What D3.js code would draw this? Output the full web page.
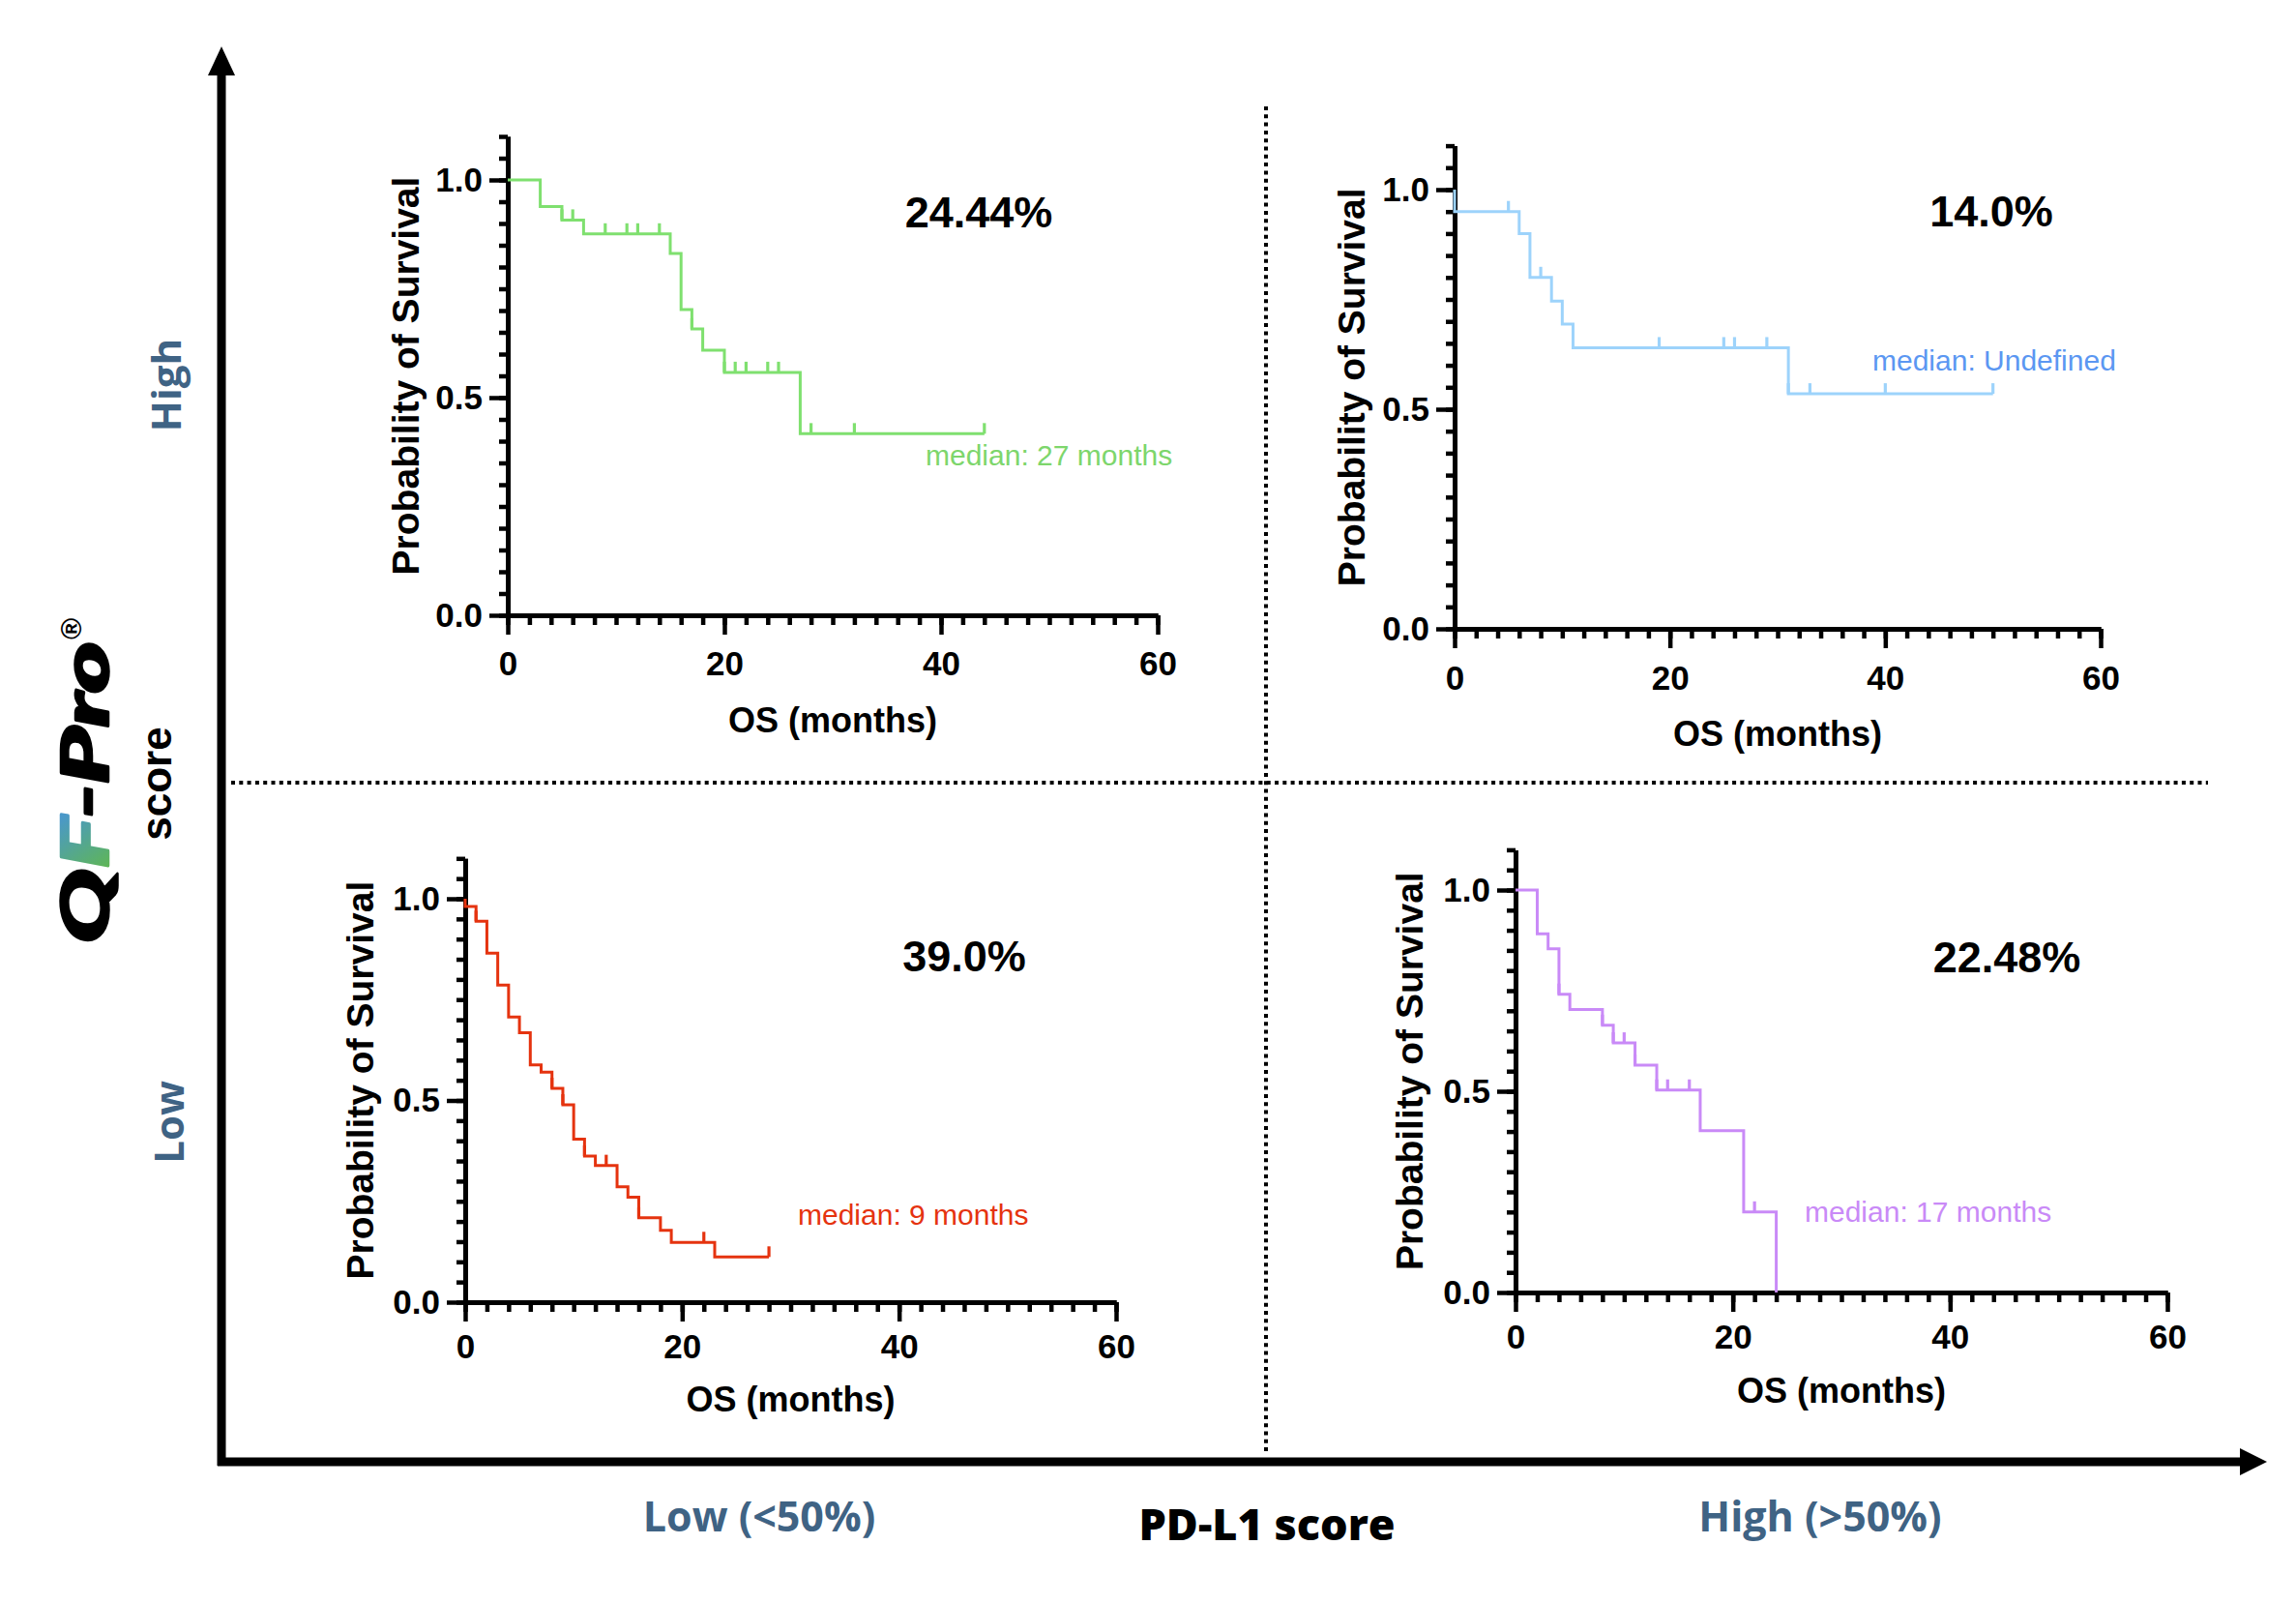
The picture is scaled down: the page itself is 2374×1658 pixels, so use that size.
<!DOCTYPE html>
<html>
<head>
<meta charset="utf-8">
<script src="https://cdn.jsdelivr.net/npm/d3@7"></script>
<style>
  html, body { margin: 0; padding: 0; background: #fff; }
  svg { display: block; }
</style>
</head>
<body>
<div id="chart"></div>
<script>
// ---------------- DATA ----------------
const xTickValues = [0, 20, 40, 60];
const xTickLabels = ["0", "20", "40", "60"];
const yTickValues = [0, 0.5, 1.0];
const yTickLabels = ["0.0", "0.5", "1.0"];
const percentLabels = ["24.44%", "14.0%", "39.0%", "22.48%"];
const medianLabels = ["median: 27 months", "median: Undefined", "median: 9 months", "median: 17 months"];
const rowLabels = ["High", "Low"];
const colLabels = ["Low (<50%)", "High (>50%)"];
const xAxisTitle = "PD-L1 score";
const yAxisTitle = "score";
const panelXLabel = "OS (months)";
const panelYLabel = "Probability of Survival";

// High QF-Pro / Low PD-L1 (green)
const greenTimes = [0, 3, 5, 7, 15, 16, 17, 18, 20, 27];
const greenSurv = [1.0, 0.939, 0.908, 0.876, 0.831, 0.702, 0.658, 0.609, 0.558, 0.417];
const greenCensor = [5, 6, 9, 11, 12, 14, 17, 20, 21, 22, 24, 25, 28, 32, 44];
const greenEnd = 44;

// High QF-Pro / High PD-L1 (blue)
const blueTimes = [0, 0, 6, 7, 9, 10, 11, 31];
const blueSurv = [1.0, 0.95, 0.90, 0.80, 0.746, 0.694, 0.640, 0.535];
const blueCensor = [5, 8, 19, 25, 26, 29, 31, 33, 40, 50];
const blueEnd = 50;

// Low QF-Pro / Low PD-L1 (red)
const redTimes = [0, 0, 1, 2, 3, 4, 5, 6, 7, 8, 9, 10, 11, 12, 14, 15, 16, 18, 19, 23];
const redSurv = [1.0, 0.981, 0.944, 0.865, 0.786, 0.707, 0.668, 0.588, 0.570, 0.530, 0.489, 0.404, 0.362, 0.339, 0.286, 0.260, 0.209, 0.178, 0.148, 0.112];
const redCensor = [1, 8, 9, 11, 13, 16, 22, 28];
const redEnd = 28;

// Low QF-Pro / High PD-L1 (purple)
const purpleTimes = [0, 2, 3, 4, 5, 8, 9, 11, 13, 17, 21, 24];
const purpleSurv = [1.0, 0.891, 0.854, 0.741, 0.703, 0.664, 0.620, 0.565, 0.503, 0.402, 0.200, 0.0];
const purpleCensor = [4, 8, 9, 10, 11, 13, 14, 16, 22];
const purpleEnd = 24;

// ---------------- LAYOUT / STYLE ----------------
const W = 2374, H = 1658;
const panels = [
  { times: greenTimes, surv: greenSurv, censor: greenCensor, end: greenEnd,
    line: "#7fe06f", text: "#7dd66c",
    x0: 525, x1: 1197, y0: 636, y1: 186, tickGap: 62, labelGap: 121, yLabelX: 433,
    pct: [1012, 235], med: [957, 481] },
  { times: blueTimes, surv: blueSurv, censor: blueCensor, end: blueEnd,
    line: "#9dd3fb", text: "#5b97f2",
    x0: 1504, x1: 2172, y0: 650, y1: 196, tickGap: 63, labelGap: 121, yLabelX: 1411,
    pct: [2059, 234], med: [1936, 383] },
  { times: redTimes, surv: redSurv, censor: redCensor, end: redEnd,
    line: "#e5330f", text: "#e5330f",
    x0: 481, x1: 1154, y0: 1346, y1: 929, tickGap: 58, labelGap: 113, yLabelX: 386,
    pct: [997, 1004], med: [825, 1266] },
  { times: purpleTimes, surv: purpleSurv, censor: purpleCensor, end: purpleEnd,
    line: "#c98af7", text: "#c98af7",
    x0: 1567, x1: 2241, y0: 1336, y1: 920, tickGap: 58, labelGap: 114, yLabelX: 1471,
    pct: [2075, 1005], med: [1866, 1263] }
];
const sansFont = "'Liberation Sans', Arial, Helvetica, sans-serif";
const frameFont = "'Open Sans', 'Noto Sans', sans-serif";
const frameBlue = "#3f6384";

const svg = d3.select("#chart").append("svg")
  .attr("width", W).attr("height", H)
  .attr("viewBox", `0 0 ${W} ${H}`);
svg.append("rect").attr("width", W).attr("height", H).attr("fill", "#fff");

const defs = svg.append("defs");
const grad = defs.append("linearGradient")
  .attr("id", "fgrad").attr("gradientUnits", "userSpaceOnUse")
  .attr("x1", 132).attr("y1", -46).attr("x2", 66).attr("y2", 0);
grad.append("stop").attr("offset", "0%").attr("stop-color", "#4a98c9");
grad.append("stop").attr("offset", "100%").attr("stop-color", "#62ba45");

// ---------------- FRAME ----------------
svg.append("line").attr("x1", 1309).attr("x2", 1309).attr("y1", 110).attr("y2", 1503)
  .attr("stroke", "#000").attr("stroke-width", 4).attr("stroke-dasharray", "4 4.3");
svg.append("line").attr("x1", 239).attr("x2", 2283).attr("y1", 809).attr("y2", 809)
  .attr("stroke", "#000").attr("stroke-width", 4).attr("stroke-dasharray", "4 4.3");

svg.append("line").attr("x1", 229).attr("x2", 229).attr("y1", 1515).attr("y2", 75)
  .attr("stroke", "#000").attr("stroke-width", 9);
svg.append("path").attr("d", "M215,78 L243,78 L229,48 Z").attr("fill", "#000");
svg.append("line").attr("x1", 225).attr("x2", 2318).attr("y1", 1511).attr("y2", 1511)
  .attr("stroke", "#000").attr("stroke-width", 9);
svg.append("path").attr("d", "M2316,1497 L2316,1525 L2344,1511 Z").attr("fill", "#000");

[[187, 398], [190, 1160]].forEach((p, i) => {
  svg.append("text").attr("transform", `translate(${p[0]},${p[1]}) rotate(-90)`)
    .attr("text-anchor", "middle").attr("font-family", frameFont)
    .attr("font-weight", 700).attr("font-size", 42).attr("fill", frameBlue)
    .text(rowLabels[i]);
});
[785, 1882].forEach((x, i) => {
  svg.append("text").attr("x", x).attr("y", 1583)
    .attr("text-anchor", "middle").attr("font-family", frameFont)
    .attr("font-weight", 700).attr("font-size", 43).attr("fill", frameBlue)
    .text(colLabels[i]);
});
svg.append("text").attr("x", 1310).attr("y", 1592)
  .attr("text-anchor", "middle").attr("font-family", frameFont)
  .attr("font-weight", 800).attr("font-size", 45).attr("fill", "#000")
  .text(xAxisTitle);

const logo = svg.append("g").attr("transform", "translate(112,975) rotate(-90)");
const lt = logo.append("text").attr("x", 0).attr("y", 0)
  .attr("font-family", "Lato, 'Open Sans', sans-serif").attr("font-style", "italic")
  .attr("font-weight", 900).attr("font-size", 66)
  .attr("stroke-width", 2.5).attr("stroke-linejoin", "round")
  .attr("textLength", 312).attr("lengthAdjust", "spacingAndGlyphs");
lt.append("tspan").attr("fill", "#000").attr("stroke", "#000").text("Q");
lt.append("tspan").attr("fill", "url(#fgrad)").attr("stroke", "url(#fgrad)").text("F");
lt.append("tspan").attr("fill", "#000").attr("stroke", "#000").text("-Pro");
logo.append("text").attr("x", 314).attr("y", -28)
  .attr("font-family", sansFont).attr("font-weight", 700).attr("font-size", 30)
  .attr("fill", "#000").text("®");
svg.append("text").attr("transform", "translate(177,810) rotate(-90)")
  .attr("text-anchor", "middle").attr("font-family", sansFont)
  .attr("font-weight", 700).attr("font-size", 44).attr("fill", "#000")
  .text(yAxisTitle);

// ---------------- PANELS ----------------
panels.forEach((p, idx) => {
  const x = d3.scaleLinear().domain([0, 60]).range([p.x0, p.x1]);
  const y = d3.scaleLinear().domain([0, 1]).range([p.y0, p.y1]);
  const yTop = y(1.1);
  const yFull = d3.scaleLinear().domain([0, 1.1]).range([p.y0, yTop]);
  const g = svg.append("g");

  const xMinor = d3.axisBottom(x).tickValues(d3.range(0, 61, 2)).tickSize(10).tickSizeOuter(0).tickFormat("");
  const yMinor = d3.axisLeft(yFull).tickValues(d3.range(0, 23).map(v => v * 0.05)).tickSize(9).tickSizeOuter(0).tickFormat("");
  const gxm = g.append("g").attr("transform", `translate(0,${p.y0})`).call(xMinor);
  const gym = g.append("g").attr("transform", `translate(${p.x0},0)`).call(yMinor);
  const xMajor = d3.axisBottom(x).tickValues(xTickValues).tickSize(20).tickSizeOuter(0)
    .tickFormat((d, i) => xTickLabels[i]);
  const yMajor = d3.axisLeft(yFull).tickValues(yTickValues).tickSize(19).tickSizeOuter(0)
    .tickPadding(7).tickFormat((d, i) => yTickLabels[i]);
  const gx = g.append("g").attr("transform", `translate(0,${p.y0})`).call(xMajor);
  const gy = g.append("g").attr("transform", `translate(${p.x0},0)`).call(yMajor);

  [gxm, gym, gx, gy].forEach(a => {
    a.selectAll("path.domain").attr("stroke", "#000").attr("stroke-width", 5);
    a.selectAll(".tick line").attr("stroke", "#000").attr("stroke-width", 4.5);
  });
  [gx, gy].forEach(a => a.selectAll("text")
    .attr("font-family", sansFont).attr("font-weight", 700)
    .attr("font-size", 35).attr("fill", "#000"));
  gx.selectAll("text").attr("y", p.tickGap).attr("dy", null);

  g.append("text").attr("x", (p.x0 + p.x1) / 2).attr("y", p.y0 + p.labelGap)
    .attr("text-anchor", "middle").attr("font-family", sansFont)
    .attr("font-weight", 700).attr("font-size", 36).text(panelXLabel);
  g.append("text").attr("transform", `translate(${p.yLabelX},${(p.y0 + yTop) / 2}) rotate(-90)`)
    .attr("text-anchor", "middle").attr("font-family", sansFont)
    .attr("font-weight", 700).attr("font-size", 39).text(panelYLabel);

  const pts = p.times.map((t, i) => [t, p.surv[i]]);
  pts.push([p.end, p.surv[p.surv.length - 1]]);
  const line = d3.line().x(d => x(d[0])).y(d => y(d[1])).curve(d3.curveStepAfter);
  g.append("path").attr("d", line(pts)).attr("fill", "none")
    .attr("stroke", p.line).attr("stroke-width", 3);

  const survAt = t => {
    let s = p.surv[0];
    p.times.forEach((tt, i) => { if (tt <= t) s = p.surv[i]; });
    return s;
  };
  g.selectAll("line.cens").data(p.censor).enter().append("line")
    .attr("class", "cens")
    .attr("x1", d => x(d)).attr("x2", d => x(d))
    .attr("y1", d => y(survAt(d))).attr("y2", d => y(survAt(d)) - 11)
    .attr("stroke", p.line).attr("stroke-width", 3.2);

  g.append("text").attr("x", p.pct[0]).attr("y", p.pct[1])
    .attr("text-anchor", "middle").attr("font-family", sansFont)
    .attr("font-weight", 700).attr("font-size", 45).attr("fill", "#000")
    .text(percentLabels[idx]);
  g.append("text").attr("x", p.med[0]).attr("y", p.med[1])
    .attr("font-family", sansFont).attr("font-size", 30).attr("fill", p.text)
    .text(medianLabels[idx]);
});
</script>
</body>
</html>
